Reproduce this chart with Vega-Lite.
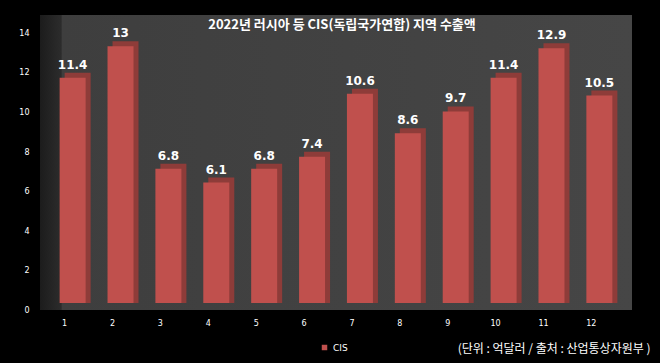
{
  "$schema": "https://vega.github.io/schema/vega-lite/v6.json",
  "width": 592,
  "height": 295,
  "autosize": {"type": "none"},
  "padding": {"left": 40, "top": 15, "right": 28, "bottom": 53},
  "background": "#000000",
  "view": {
    "stroke": null,
    "fill": {
      "gradient": "linear", "x1": 0, "y1": 0, "x2": 1, "y2": 0,
      "stops": [
        {"offset": 0, "color": "#1c1c1c"},
        {"offset": 0.036, "color": "#2c2c2c"},
        {"offset": 0.037, "color": "#3e3e3e"},
        {"offset": 1, "color": "#464646"}
      ]
    }
  },
  "title": {
    "text": "2022년 러시아 등 CIS(독립국가연합) 지역 수출액",
    "color": "#ffffff",
    "font": "Noto Sans CJK KR",
    "fontSize": 13,
    "fontWeight": "bold",
    "anchor": "middle",
    "frame": "group",
    "offset": -17,
    "dx": 6
  },
  "data": {
    "values": [
      {"month": "1", "value": 11.4, "series": "CIS"},
      {"month": "2", "value": 13, "series": "CIS"},
      {"month": "3", "value": 6.8, "series": "CIS"},
      {"month": "4", "value": 6.1, "series": "CIS"},
      {"month": "5", "value": 6.8, "series": "CIS"},
      {"month": "6", "value": 7.4, "series": "CIS"},
      {"month": "7", "value": 10.6, "series": "CIS"},
      {"month": "8", "value": 8.6, "series": "CIS"},
      {"month": "9", "value": 9.7, "series": "CIS"},
      {"month": "10", "value": 11.4, "series": "CIS"},
      {"month": "11", "value": 12.9, "series": "CIS"},
      {"month": "12", "value": 10.5, "series": "CIS"}
    ]
  },
  "encoding": {
    "x": {
      "field": "month", "type": "ordinal", "sort": null,
      "scale": {"paddingInner": 0.457, "paddingOuter": 0.41},
      "axis": {
        "labelAngle": 0, "domain": false, "ticks": false, "grid": false,
        "labelColor": "#ffffff", "labelFontSize": 8, "labelFont": "DejaVu Sans",
        "labelPadding": 9, "labelOffset": -8,
        "title": "(단위 : 억달러 / 출처 : 산업통상자원부 )",
        "titleColor": "#ffffff", "titleFont": "Noto Sans CJK KR",
        "titleFontSize": 12, "titleFontWeight": "normal",
        "titleAnchor": "end", "titleAlign": "right",
        "titleX": 610, "titleY": 38, "titleBaseline": "middle"
      }
    },
    "y": {
      "field": "value", "type": "quantitative",
      "scale": {"domain": [-0.35, 14.58], "nice": false, "zero": false},
      "axis": {
        "values": [0, 2, 4, 6, 8, 10, 12, 14],
        "domain": false, "ticks": false, "grid": false,
        "labelColor": "#ffffff", "labelFontSize": 8, "labelFont": "DejaVu Sans",
        "labelPadding": 11, "labelOffset": 7, "title": null
      }
    }
  },
  "layer": [
    {
      "mark": {"type": "bar", "xOffset": 5, "yOffset": -5, "color": "#8e3c39"},
      "encoding": {"y2": {"datum": 0}}
    },
    {
      "mark": {"type": "bar"},
      "encoding": {
        "y2": {"datum": 0},
        "color": {
          "field": "series", "type": "nominal",
          "scale": {"range": ["#c0504d"]},
          "legend": {
            "title": null, "orient": "none", "legendX": 280, "legendY": 328,
            "symbolType": "square", "symbolSize": 30,
            "labelColor": "#ffffff", "labelFontSize": 9, "labelFont": "DejaVu Sans"
          }
        }
      }
    },
    {
      "mark": {"type": "text", "dy": -13, "color": "#ffffff", "fontWeight": "bold", "fontSize": 12, "font": "DejaVu Sans"},
      "encoding": {"text": {"field": "value", "type": "quantitative"}}
    }
  ]
}
